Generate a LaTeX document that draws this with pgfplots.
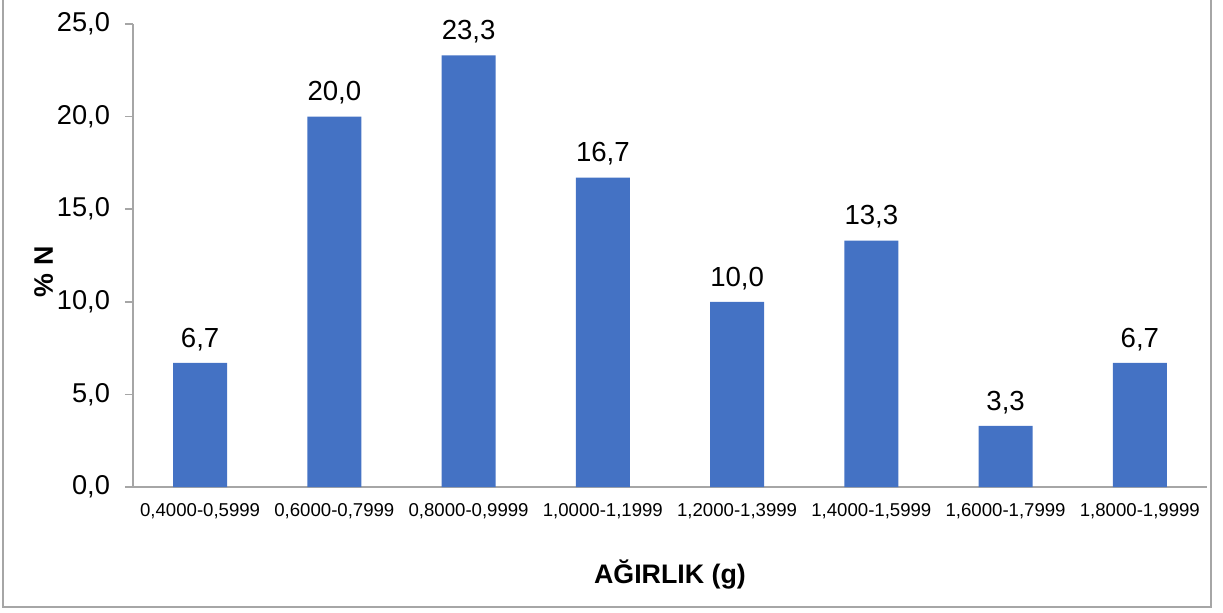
\documentclass[border=0pt]{standalone}
\usepackage{fontspec}
\setmainfont{Liberation Sans}
\usepackage{pgfplots}
\pgfplotsset{compat=1.18}
\definecolor{barblue}{HTML}{4472C4}
\definecolor{axgray}{HTML}{A6A6A6}

\begin{document}
\begin{tikzpicture}
% 1 px of the reference = 0.5pt
\useasboundingbox (-66.5pt,-62.5pt) rectangle (545pt,243.5pt);
\draw[axgray, line width=1pt] (-65pt,244pt) -- (-65pt,-60pt) -- (539pt,-60pt) -- (539pt,244pt);
\begin{axis}[
    scale only axis,
    width=537pt, height=231.5pt,
    xmin=-0.5, xmax=7.5,
    ymin=0, ymax=25,
    ytick={0,5,...,25},
    xtick=data,
    xticklabels={{0,4000-0,5999}, {0,6000-0,7999}, {0,8000-0,9999}, {1,0000-1,1999},
                 {1,2000-1,3999}, {1,4000-1,5999}, {1,6000-1,7999}, {1,8000-1,9999}},
    axis x line=bottom, axis y line=left,
    axis line style={-, axgray, line width=0.8pt},
    tick align=outside,
    major tick length=4pt,
    ytick style={axgray, line width=0.8pt},
    xtick style={draw=none},
    /pgf/number format/assume math mode=true,
    yticklabel style={/pgf/number format/fixed, /pgf/number format/fixed zerofill,
        /pgf/number format/precision=1, /pgf/number format/use comma,
        font=\fontsize{13.6}{15}\selectfont, xshift=-4pt},
    xticklabel style={font=\fontsize{9.3}{11}\selectfont, yshift=-0.5pt},
    ylabel={\% N},
    xlabel={AĞIRLIK (g)},
    every axis y label/.style={at={(axis description cs:0,0.465)}, xshift=-40pt, rotate=90, anchor=base,
        font=\fontsize{13.4}{15}\selectfont\bfseries},
    every axis x label/.style={at={(axis description cs:0.5,0)}, anchor=base, yshift=-48pt,
        font=\fontsize{13.4}{15}\selectfont\bfseries},
    ybar, bar width=27pt,
    nodes near coords,
    every node near coord/.append style={/pgf/number format/fixed, /pgf/number format/fixed zerofill,
        /pgf/number format/precision=1, /pgf/number format/use comma,
        anchor=base, yshift=7.9pt, inner sep=0pt, font=\fontsize{13.8}{15}\selectfont, text=black},
]
\addplot[fill=barblue, draw=none] coordinates {
    (0,6.7) (1,20.0) (2,23.3) (3,16.7) (4,10.0) (5,13.3) (6,3.3) (7,6.7)
};
\end{axis}
\end{tikzpicture}
\end{document}
